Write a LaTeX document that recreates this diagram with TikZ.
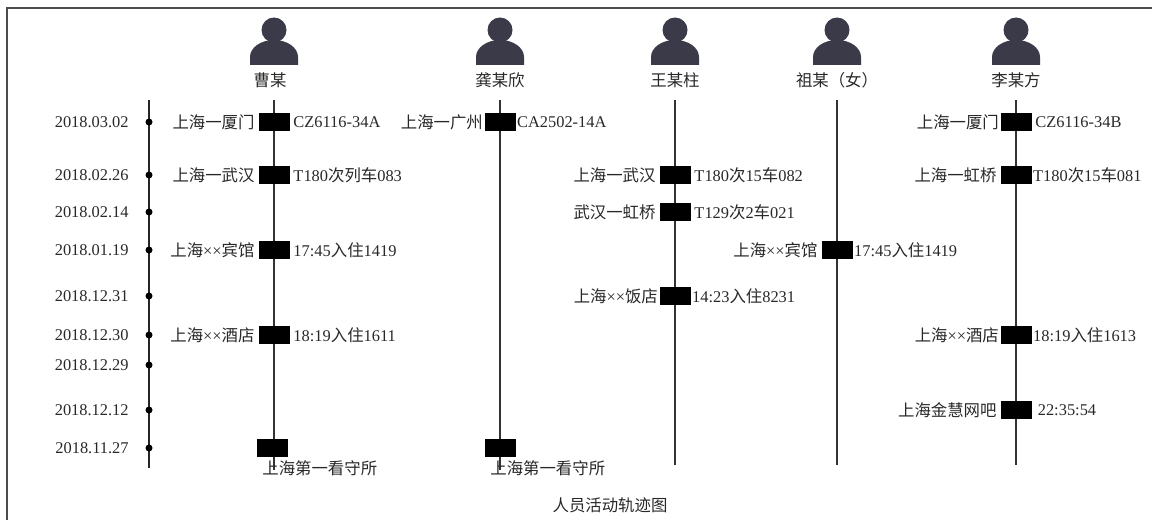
\documentclass[tikz,border=0pt]{standalone}
\usepackage{fontspec}
\setmainfont{Liberation Serif}
\newfontfamily\cjk{Noto Sans CJK SC}
\newcommand{\zh}[1]{{\cjk #1}}
\usetikzlibrary{positioning}
\definecolor{iconcol}{RGB}{58,58,72}
\definecolor{txt}{RGB}{40,40,40}
\tikzset{person/.pic={
  \fill[iconcol] (0,35) circle[radius=12.5];
  \fill[iconcol] (-24,0) -- (-24,8) arc[start angle=180,end angle=0,x radius=24,y radius=17] -- (24,0) -- cycle;
}}

\begin{document}
\begin{tikzpicture}[x=0.03cm,y=0.03cm,node distance=2pt,
  every node/.style={font=\fontsize{14}{16}\selectfont,text=txt,inner sep=1pt},
  evbox/.style={fill=black,minimum width=0.93cm,minimum height=0.54cm,inner sep=0pt},
  dot/.style={circle,fill=black,minimum size=0.21cm,inner sep=0pt},
  track/.style={line width=1.3pt,black!80},
  under/.style={anchor=north west,xshift=4pt,yshift=-2pt}]
\useasboundingbox (0,0) rectangle (1152,520);
\draw[line width=1.6pt,black!70] (7,0) -- (7,512) -- (1152,512);

% time axis
\coordinate (axT) at (149,420);
\coordinate (axB) at (149,52);
\draw[line width=1.6pt,black!85] (axT) -- (axB);
\node[dot] (d1) at (149,398) {};
\node[dot] (d2) at (149,345) {};
\node[dot] (d3) at (149,308) {};
\node[dot] (d4) at (149,270) {};
\node[dot] (d5) at (149,224) {};
\node[dot] (d6) at (149,185) {};
\node[dot] (d7) at (149,155) {};
\node[dot] (d8) at (149,110) {};
\node[dot] (d9) at (149,72) {};
\node[left=13pt of d1] {2018.03.02};
\node[left=13pt of d2] {2018.02.26};
\node[left=13pt of d3] {2018.02.14};
\node[left=13pt of d4] {2018.01.19};
\node[left=13pt of d5] {2018.12.31};
\node[left=13pt of d6] {2018.12.30};
\node[left=13pt of d7] {2018.12.29};
\node[left=13pt of d8] {2018.12.12};
\node[left=13pt of d9] {2018.11.27};

% persons
\pic at (274,455) {person};
\pic at (500,455) {person};
\pic at (675,455) {person};
\pic at (837,455) {person};
\pic at (1016,455) {person};
\node (caoN) at (270,440) {\zh{曹某}};
\node (gongN) at (500,440) {\zh{龚某欣}};
\node (wangN) at (675,440) {\zh{王某柱}};
\node (zuN) at (837,440) {\zh{祖某（女）}};
\node (liN) at (1016,440) {\zh{李某方}};

\coordinate (caoT) at (274,420);   \coordinate (caoB) at (274,50);
\coordinate (gongT) at (500,420);  \coordinate (gongB) at (500,50);
\coordinate (wangT) at (675,420);  \coordinate (wangB) at (675,55);
\coordinate (zuT) at (837,420);    \coordinate (zuB) at (837,55);
\coordinate (liT) at (1016,420);   \coordinate (liB) at (1016,55);
\draw[track] (caoT) -- (caoB);
\draw[track] (gongT) -- (gongB);
\draw[track] (wangT) -- (wangB);
\draw[track] (zuT) -- (zuB);
\draw[track] (liT) -- (liB);

% cao
\node[evbox] (cao1) at (274,398) {};
\node[left=of cao1] {\zh{上海一厦门}};
\node[right=of cao1] {CZ6116-34A};
\node[evbox] (cao2) at (274,345) {};
\node[left=of cao2] {\zh{上海一武汉}};
\node[right=of cao2] {T180\zh{次列车}083};
\node[evbox] (cao4) at (274,270) {};
\node[left=of cao4] {\zh{上海}××\zh{宾馆}};
\node[right=of cao4] {17:45\zh{入住}1419};
\node[evbox] (cao6) at (274,185) {};
\node[left=of cao6] {\zh{上海}××\zh{酒店}};
\node[right=of cao6] {18:19\zh{入住}1611};
\node[evbox] (cao9) at (272,72) {};
\node[under] at (cao9.south west) {\zh{上海第一看守所}};

% gong
\node[evbox] (gong1) at (500,398) {};
\node[left=0pt of gong1] {\zh{上海一广州}};
\node[right=0pt of gong1] {CA2502-14A};
\node[evbox] (gong9) at (500,72) {};
\node[under] at (gong9.south west) {\zh{上海第一看守所}};

% wang
\node[evbox] (wang2) at (675,345) {};
\node[left=of wang2] {\zh{上海一武汉}};
\node[right=of wang2] {T180\zh{次}15\zh{车}082};
\node[evbox] (wang3) at (675,308) {};
\node[left=of wang3] {\zh{武汉一虹桥}};
\node[right=of wang3] {T129\zh{次}2\zh{车}021};
\node[evbox] (wang5) at (675,224) {};
\node[left=0pt of wang5] {\zh{上海}××\zh{饭店}};
\node[right=0pt of wang5] {14:23\zh{入住}8231};

% zu
\node[evbox] (zu4) at (837,270) {};
\node[left=of zu4] {\zh{上海}××\zh{宾馆}};
\node[right=0pt of zu4] {17:45\zh{入住}1419};

% li
\node[evbox] (li1) at (1016,398) {};
\node[left=0pt of li1] {\zh{上海一厦门}};
\node[right=of li1] {CZ6116-34B};
\node[evbox] (li2) at (1016,345) {};
\node[left=of li2] {\zh{上海一虹桥}};
\node[right=0pt of li2] {T180\zh{次}15\zh{车}081};
\node[evbox] (li6) at (1016,185) {};
\node[left=0pt of li6] {\zh{上海}××\zh{酒店}};
\node[right=0pt of li6] {18:19\zh{入住}1613};
\node[evbox] (li8) at (1016,110) {};
\node[left=of li8] {\zh{上海金慧网吧}};
\node[right=4pt of li8] {22:35:54};

\node (title) at (610,15) {\zh{人员活动轨迹图}};
\end{tikzpicture}
\end{document}
